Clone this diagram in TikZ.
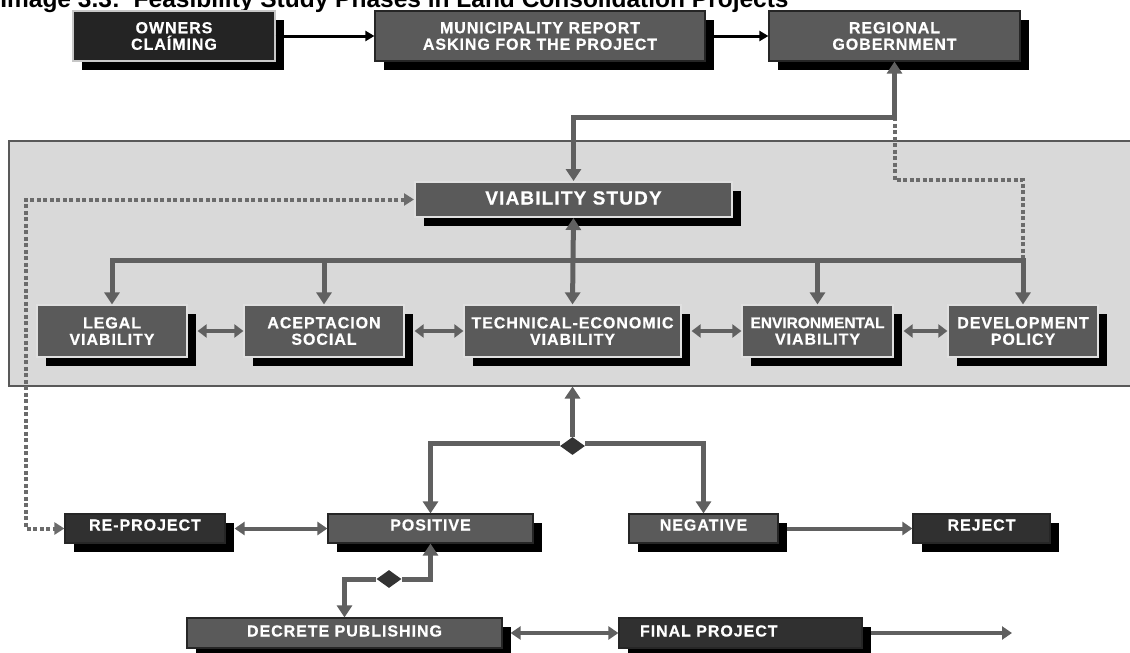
\documentclass[tikz,border=0pt]{standalone}
\usepackage{fontspec}
\setmainfont{Liberation Sans}
\newfontfamily\boxfont[LetterSpace=6, FakeBold=0.6]{Liberation Sans}
\newfontfamily\boxfonttight[FakeBold=0.6]{Liberation Sans}
\usetikzlibrary{arrows.meta}
\usetikzlibrary{shapes.geometric}
\usetikzlibrary{shadows}

\definecolor{boxgray}{HTML}{5A5A5A}
\definecolor{boxdark}{HTML}{303030}
\definecolor{linegray}{HTML}{606060}
\definecolor{panelgray}{HTML}{D9D9D9}

\begin{document}
\begin{tikzpicture}[
                    x = 1pt, y = -1pt, % one unit per pixel, y downwards
                    > = {Triangle[length=12pt, width=15pt]}, % arrow head style
                    semithick % line style
            ]

            \tikzstyle{phase}=[
                rectangle,
                inner sep = 0pt,
                fill = boxgray,
                draw = black!85,
                line width = 1.2pt,
                text = white,
                align = center,
                font = \boxfont\bfseries\fontsize{16}{16.5}\selectfont,
                drop shadow = {shadow xshift = 9pt, shadow yshift = -9pt, fill = black, opacity = 1}
            ]
            \tikzstyle{light}=[draw = black!12]
            \tikzstyle{dark}=[fill = boxdark]
            \tikzstyle{splitter}=[diamond, fill = black!80, inner sep = 0pt, minimum width = 25pt, minimum height = 18pt]
            \tikzstyle{mainline}=[draw = linegray, line width = 5pt]
            \tikzstyle{midarrow}=[draw = linegray, line width = 3.5pt, <->, > = {Triangle[length=9pt, width=13pt]}]
            \tikzstyle{botarrow}=[draw = linegray, line width = 4pt, > = {Triangle[length=10pt, width=13pt]}]
            \tikzstyle{toparrow}=[draw = black, line width = 3pt, ->, > = {Triangle[length=9pt, width=10pt]}]
            \tikzstyle{dotline}=[draw = black!58, line width = 4pt, dash pattern = on 4pt off 2.5pt, > = {Triangle[length=10pt, width=12pt]}]

            \useasboundingbox (0,0) rectangle (1130,653);

            % title, cut at the top
            \node[anchor = base west, inner sep = 0pt, font = \bfseries\fontsize{24.5}{28}\selectfont] (title) at (0,8)
                {Image 3.3:\ \ Feasibility Study Phases in Land Consolidation Projects};

            % grey panel of the viability study
            \node[anchor = north west, inner sep = 0pt, fill = panelgray, draw = black!65, line width = 1.5pt,
                  minimum width = 1135pt, minimum height = 245pt] (panel) at (8,140) {};

            % top row
            \node[phase, dark, draw = black!22, fill = black!86, minimum width = 202pt, minimum height = 50pt] (owners) at (174,36) {OWNERS\\CLAÍMING};
            \node[phase, minimum width = 330pt, minimum height = 50pt] (muni) at (540,36) {MUNICIPALITY REPORT\\ASKING FOR THE PROJECT};
            \node[phase, minimum width = 251pt, minimum height = 50pt] (regional) at (894.5,36) {REGIONAL\\GOBERNMENT};

            % viability study and its parts
            \node[phase, light, line width = 2pt, minimum width = 317pt, minimum height = 35pt, text height = 14pt, text depth = 4pt,
                  font = \boxfont\bfseries\fontsize{19}{21}\selectfont] (vs) at (573.5,199.5) {VIABILITY STUDY};
            \node[phase, light, minimum width = 150pt, minimum height = 52pt] (legal) at (112,331) {LEGAL\\VIABILITY};
            \node[phase, light, minimum width = 160pt, minimum height = 52pt] (social) at (324,331) {ACEPTACION\\SOCIAL};
            \node[phase, light, minimum width = 217pt, minimum height = 52pt] (tech) at (572.5,331) {TECHNICAL-ECONOMIC\\VIABILITY};
            \node[phase, light, minimum width = 151pt, minimum height = 52pt] (env) at (817.5,331)
                {{\boxfonttight\bfseries\fontsize{15.5}{16.5}\selectfont ENVIRONMENTAL}\\VIABILITY};
            \node[phase, light, minimum width = 150pt, minimum height = 52pt] (dp) at (1023,331) {DEVELOPMENT\\POLICY};

            % results
            \node[phase, dark, minimum width = 160pt, minimum height = 29pt, text height = 11pt, text depth = 7pt] (reproj) at (145,528.5) {RE-PROJECT};
            \node[phase, minimum width = 205pt, minimum height = 29pt, text height = 11pt, text depth = 7pt] (positive) at (430.5,528.5) {POSITIVE};
            \node[phase, minimum width = 149pt, minimum height = 29pt, text height = 11pt, text depth = 7pt] (negative) at (703.5,528.5) {NEGATIVE};
            \node[phase, dark, minimum width = 137pt, minimum height = 29pt, text height = 11pt, text depth = 7pt] (reject) at (981.5,528.5) {REJECT};
            \node[phase, minimum width = 315pt, minimum height = 30pt, text height = 11pt, text depth = 4pt] (decrete) at (344.5,633) {DECRETE PUBLISHING};
            \node[phase, dark, minimum width = 243pt, minimum height = 30pt, text height = 11pt, text depth = 4pt,
                  text width = 201pt, align = left] (final) at (740.5,633) {FINAL PROJECT};

            \node[splitter] (split1) at (572.5,446) {};
            \node[splitter] (split2) at (389,579) {};

            \coordinate (jct) at (894.5,117);
            \coordinate (dotbend) at (894.5,180);
            \coordinate (bus) at (0,260);
            \coordinate (rail) at (26,0);
            \coordinate (finalout) at (1012,633);

            \draw[toparrow] (owners.east) -- (muni.west);
            \draw[toparrow] (muni.east) -- (regional.west);

            \draw[dotline] (jct) -- (dotbend) -| (dp.north |- bus);
            \draw[mainline, <->] (regional.south) -- (jct) -| (vs.north);
            \draw[mainline, <->] (vs.south) -- (tech.north);
            \draw[mainline, line cap = rect] (legal.north |- bus) -- (dp.north |- bus);
            \foreach \n in {legal, social, env, dp}
                \draw[mainline, ->] (\n.north |- bus) -- (\n.north);
            \foreach \a/\b in {legal/social, social/tech, tech/env, env/dp}
                \draw[midarrow] ([xshift=10pt]\a.east) -- (\b.west);

            \draw[dotline, <->] (vs.west) -| (rail |- reproj.west) -- (reproj.west);

            \draw[mainline, ->] (split1.north) -- (tech |- panel.south);
            \draw[mainline, ->] ([yshift=3pt]split1.west) -| (positive.north);
            \draw[mainline, ->] ([yshift=3pt]split1.east) -| (negative.north);

            \draw[botarrow, <->] ([xshift=9pt]reproj.east) -- (positive.west);
            \draw[botarrow, ->] ([xshift=8pt]negative.east) -- (reject.west);

            \draw[mainline, ->] (split2.west) -| (decrete.north);
            \draw[mainline, ->] (split2.east) -| (positive.south);

            \draw[botarrow, <->] ([xshift=8pt]decrete.east) -- (final.west);
            \draw[botarrow, ->] ([xshift=8pt]final.east) -- (finalout);
        \end{tikzpicture}
\end{document}
